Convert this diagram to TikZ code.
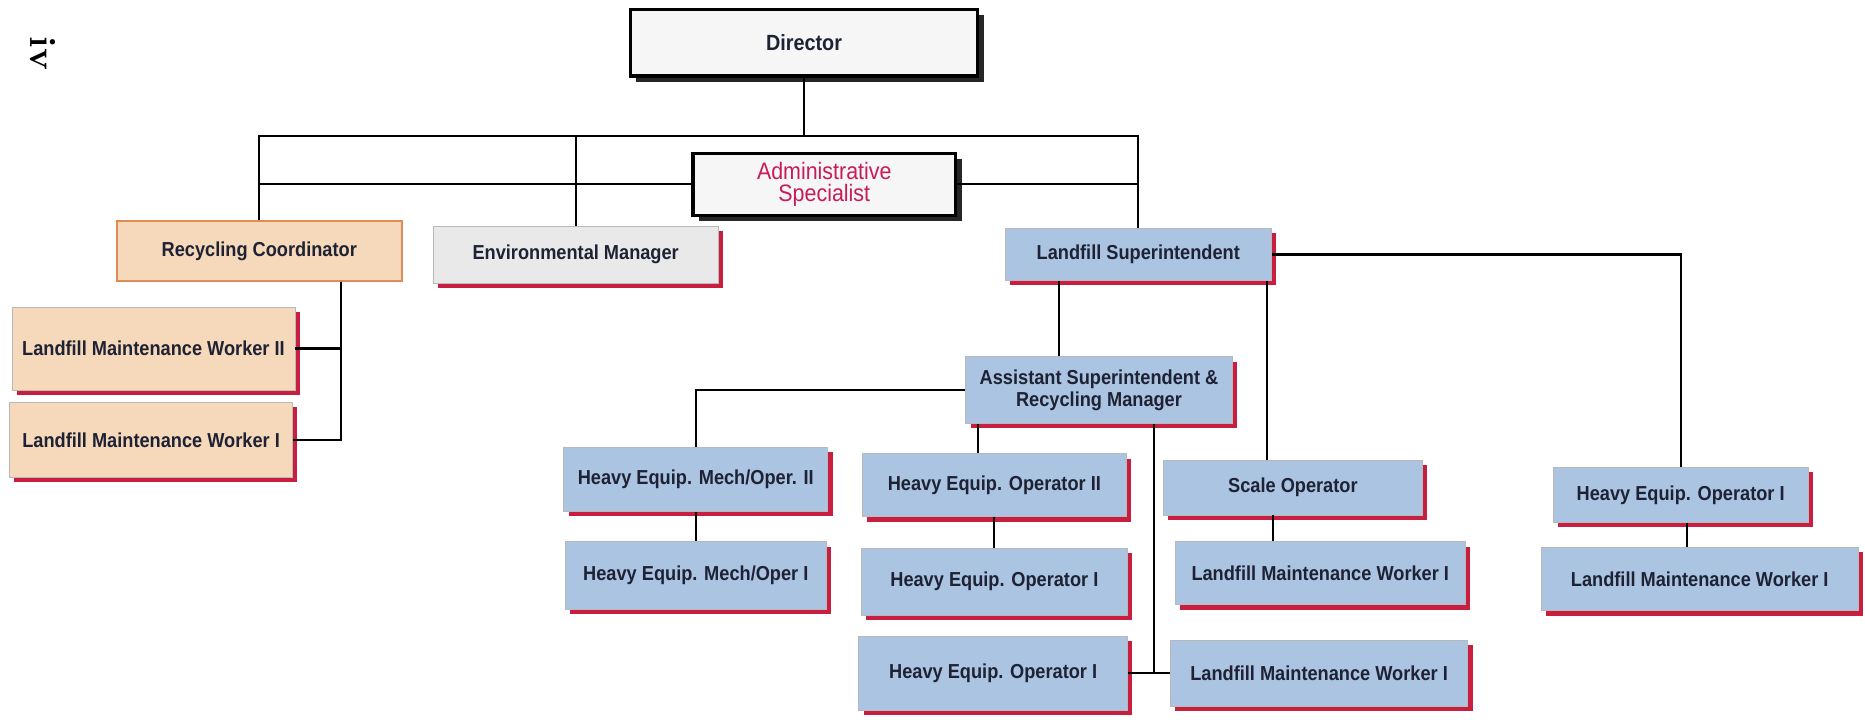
\documentclass[tikz,border=0pt]{standalone}
\usepackage{fontspec}
\newfontfamily\chartfont{Liberation Sans}[FakeStretch=0.9]
\usetikzlibrary{shadows}

\definecolor{boxblue}{RGB}{170,196,226}
\definecolor{boxpeach}{RGB}{246,216,186}
\definecolor{boxgray}{RGB}{233,233,233}
\definecolor{shred}{RGB}{200,30,64}
\definecolor{rcorange}{RGB}{222,142,84}
\definecolor{inkblue}{RGB}{30,34,52}
\definecolor{admred}{RGB}{200,28,90}

\tikzset{
  post/.style={rectangle, draw=gray!55, line width=0.6pt, align=center, inner sep=2pt,
    text=inkblue, font=\chartfont\bfseries\fontsize{17}{18}\selectfont},
  redshadow/.style={drop shadow={shadow xshift=4pt, shadow yshift=-4pt, fill=shred, opacity=1}},
  bluepost/.style={post, redshadow, fill=boxblue},
  peachpost/.style={post, redshadow, fill=boxpeach},
  graypost/.style={post, redshadow, fill=boxgray},
  rcpost/.style={post, fill=boxpeach, draw=rcorange, line width=1.6pt},
  headpost/.style={rectangle, draw=black, line width=3pt, fill=gray!7, align=center,
    drop shadow={shadow xshift=5pt, shadow yshift=-5pt, fill=black!85, opacity=1}},
  link/.style={draw=black, line width=1.8pt},
}

\begin{document}
\begin{tikzpicture}[x=1pt, y=-1pt]
    \useasboundingbox (0,0) rectangle (1568,605);

    % Page number
    \node[rotate=-90, font=\bfseries\fontsize{31}{31}\selectfont] (pg) at (36,45) {iv};

    % Top of the chart
    \node[headpost, minimum width=292pt, minimum height=56pt, text=inkblue,
      font=\chartfont\bfseries\fontsize{18.5}{20}\selectfont] (dir) at (676,36) {Director};
    \node[headpost, minimum width=221pt, minimum height=52pt, text=admred,
      font=\chartfont\fontsize{20}{19}\selectfont] (adm) at (693,155) {Administrative\\Specialist};

    % Second level
    \node[rcpost, minimum width=240pt, minimum height=50pt] (rc) at (218,211) {Recycling Coordinator};
    \node[graypost, minimum width=240pt, minimum height=48pt] (em) at (484,214) {Environmental Manager};
    \node[bluepost, minimum width=224pt, minimum height=44pt] (ls) at (957,214) {Landfill Superintendent};

    % Recycling staff
    \node[peachpost, minimum width=238pt, minimum height=70pt] (lmw2) at (129,293) {Landfill Maintenance Worker II};
    \node[peachpost, minimum width=238pt, minimum height=63pt] (lmw1) at (127,370) {Landfill Maintenance Worker I};

    % Landfill staff
    \node[bluepost, minimum width=224pt, minimum height=56pt] (asst) at (924,328) {Assistant Superintendent \&\\Recycling Manager};
    \node[bluepost, minimum width=222pt, minimum height=54pt] (hemo2) at (585,403) {Heavy Equip. Mech/Oper. II};
    \node[bluepost, minimum width=220pt, minimum height=57pt] (hemo1) at (585,484) {Heavy Equip. Mech/Oper I};
    \node[bluepost, minimum width=222pt, minimum height=53pt] (heo2) at (836,408) {Heavy Equip. Operator II};
    \node[bluepost, minimum width=224pt, minimum height=56pt] (heo1) at (836,489) {Heavy Equip. Operator I};
    \node[bluepost, minimum width=226pt, minimum height=62pt] (heo1b) at (835,566) {Heavy Equip. Operator I};
    \node[bluepost, minimum width=218pt, minimum height=46pt] (sco) at (1087,410) {Scale Operator};
    \node[bluepost, minimum width=244pt, minimum height=53pt] (lmwm) at (1110,482) {Landfill Maintenance Worker I};
    \node[bluepost, minimum width=250pt, minimum height=56pt] (lmwb) at (1109,566) {Landfill Maintenance Worker I};
    \node[bluepost, minimum width=214pt, minimum height=46pt] (heor) at (1413,416) {Heavy Equip. Operator I};
    \node[bluepost, minimum width=266pt, minimum height=53pt] (lmwf) at (1429,487) {Landfill Maintenance Worker I};

    % Drop points
    \coordinate (bus) at (676,114);
    \coordinate (rcA) at ([xshift=69pt]rc.south);
    \coordinate (lsA) at ([xshift=-67pt]ls.south);
    \coordinate (lsB) at ([xshift=108pt]ls.south);
    \coordinate (asA) at ([xshift=-102pt]asst.south);
    \coordinate (asB) at ([xshift=46pt]asst.south);
    \coordinate (scA) at ([xshift=-17pt]sco.south);
    \coordinate (heA) at ([xshift=5pt]heor.south);

    % Connectors
    \draw[link] (dir) -- (bus);
    \draw[link] (rc) |- (bus) -| (ls);
    \draw[link] (em) -- (em |- bus);
    \draw[link] (rc |- adm) -- (adm) -- (ls |- adm);
    \draw[link] (rcA) |- (lmw2);
    \draw[link] (rcA) |- (lmw1);
    \draw[link] (lsA) -- (lsA |- asst.north);
    \draw[link] (lsB) -- (lsB |- sco.north);
    \draw[link] (ls) -| (heor);
    \draw[link] (asst) -| (hemo2);
    \draw[link] (asA) -- (asA |- heo2.north);
    \draw[link] (asB) -- (asB |- lmwb);
    \draw[link] (heo1b) -- (lmwb);
    \draw[link] (hemo2) -- (hemo1);
    \draw[link] (heo2) -- (heo1);
    \draw[link] (scA) -- (scA |- lmwm.north);
    \draw[link] (heA) -- (heA |- lmwf.north);
\end{tikzpicture}
\end{document}
